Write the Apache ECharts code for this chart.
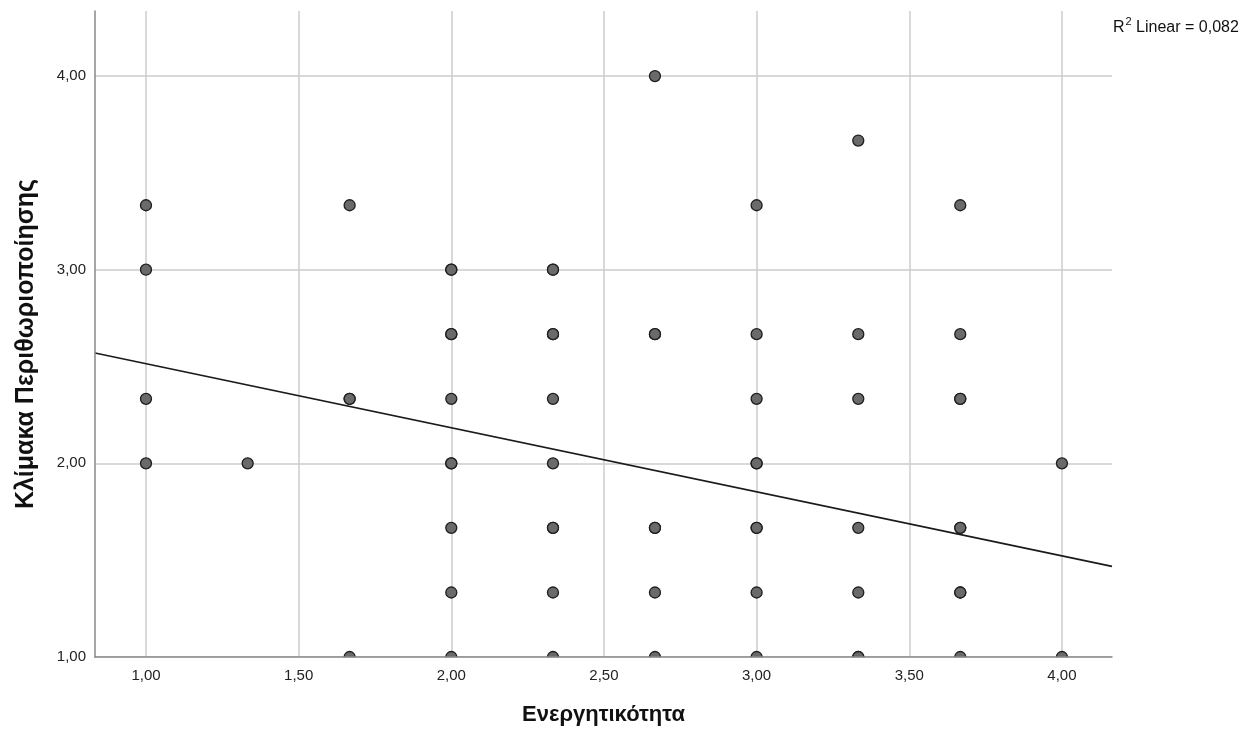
<!DOCTYPE html>
<html>
<head>
<meta charset="utf-8">
<script src="https://cdn.jsdelivr.net/npm/echarts@6/dist/echarts.min.js"></script>
<style>
html,body{margin:0;padding:0;background:#fff;}
#chart{width:1259px;height:735px;}
</style>
</head>
<body>
<div id="chart"></div>
<script>
// Scatter data: Ενεργητικότητα (x) vs Κλίμακα Περιθωριοποίησης (y)
const pointsX = [
  1, 1, 1, 1,
  1.333,
  1.667, 1.667, 1.667, 1.667,
  2, 2, 2, 2, 2, 2, 2, 2, 2, 2,
  2.333, 2.333, 2.333, 2.333, 2.333, 2.333, 2.333, 2.333, 2.333, 2.333,
  2.667, 2.667, 2.667, 2.667, 2.667, 2.667, 2.667,
  3, 3, 3, 3, 3, 3, 3, 3, 3,
  3.333, 3.333, 3.333, 3.333, 3.333, 3.333, 3.333,
  3.667, 3.667, 3.667, 3.667, 3.667, 3.667, 3.667, 3.667, 3.667,
  4, 4
];
const pointsY = [
  3.333, 3, 2.333, 2,
  2,
  3.333, 2.333, 2.333, 1,
  3, 3, 2.667, 2.667, 2.333, 2, 2, 1.667, 1.333, 1,
  3, 3, 2.667, 2.667, 2.333, 2, 1.667, 1.667, 1.333, 1,
  4, 2.667, 2.667, 1.667, 1.667, 1.333, 1,
  3.333, 2.667, 2.333, 2, 2, 1.667, 1.667, 1.333, 1,
  3.667, 2.667, 2.333, 1.667, 1.333, 1, 1,
  3.333, 2.667, 2.333, 2.333, 1.667, 1.667, 1.333, 1.333, 1,
  2, 1
];
// Linear fit line endpoints
const fitX = [0.833, 4.164];
const fitY = [2.570, 1.468];
// Tick values
const xTicks = [1, 1.5, 2, 2.5, 3, 3.5, 4];
const yTicks = [1, 2, 3, 4];
const xTitle = 'Ενεργητικότητα';
const yTitle = 'Κλίμακα Περιθωριοποίησης';
const r2Value = '0,082';

const fmt = v => v.toFixed(2).replace('.', ',');
const scatterData = pointsX.map((x, i) => [x, pointsY[i]]);
const fitData = fitX.map((x, i) => [x, fitY[i]]);

const chart = echarts.init(document.getElementById('chart'), null, {renderer: 'canvas'});
const FONT = 'Liberation Sans, Arial, sans-serif';
const GRID = {left: 95, right: 147, top: 11, bottom: 78};
const XMIN = 0.833, XMAX = 4.164, YMIN = 1, YMAX = 4.336;

chart.setOption({
  animation: false,
  backgroundColor: '#ffffff',
  grid: GRID,
  xAxis: [
    { // vertical gridlines only (behind points)
      type: 'value', min: XMIN, max: XMAX, position: 'top', z: 0,
      axisLine: {show: false}, axisTick: {show: false, customValues: xTicks},
      axisLabel: {show: false, customValues: xTicks},
      splitLine: {show: true, lineStyle: {color: '#cccccc', width: 1.5}}
    },
    { // axis line, labels and title (above cover)
      type: 'value', min: XMIN, max: XMAX, position: 'bottom', z: 6,
      axisLine: {show: true, onZero: false, lineStyle: {color: '#888888', width: 1.5}},
      axisTick: {show: false, customValues: xTicks},
      axisLabel: {show: true, customValues: xTicks, formatter: fmt, color: '#222', fontFamily: FONT, fontSize: 15, margin: 11},
      splitLine: {show: false},
      name: xTitle, nameLocation: 'middle', nameGap: 47,
      nameTextStyle: {fontFamily: FONT, fontWeight: 'bold', fontSize: 22, color: '#111'}
    }
  ],
  yAxis: [
    { // horizontal gridlines only (behind points)
      type: 'value', min: YMIN, max: YMAX, position: 'right', z: 0,
      axisLine: {show: false}, axisTick: {show: false, customValues: yTicks},
      axisLabel: {show: false, customValues: yTicks},
      splitLine: {show: true, lineStyle: {color: '#cccccc', width: 1.5}}
    },
    {
      type: 'value', min: YMIN, max: YMAX, position: 'left', z: 6,
      axisLine: {show: true, onZero: false, lineStyle: {color: '#888888', width: 1.5}},
      axisTick: {show: false, customValues: yTicks},
      axisLabel: {show: true, customValues: yTicks, formatter: fmt, color: '#222', fontFamily: FONT, fontSize: 15, margin: 9},
      splitLine: {show: false},
      name: yTitle, nameLocation: 'middle', nameGap: 56, nameRotate: 90,
      nameTextStyle: {fontFamily: FONT, fontWeight: 'bold', fontSize: 25, color: '#111', padding: [0, 20, 0, 0]}
    }
  ],
  graphic: [
    { // cover that hides the lower half of points lying on the bottom axis
      type: 'rect', z: 4, silent: true,
      shape: {x: 96, y: 657.3, width: 1163, height: 80},
      style: {fill: '#ffffff'}
    },
    {
      type: 'text', z: 7, left: 1113, top: 16,
      style: {
        text: '{r|R}{s|2}{r| Linear = ' + r2Value + '}',
        rich: {
          r: {fontFamily: FONT, fontSize: 16, fill: '#111', verticalAlign: 'bottom', lineHeight: 20},
          s: {fontFamily: FONT, fontSize: 11, fill: '#111', verticalAlign: 'top', padding: [0, 0, 0, 1], lineHeight: 20}
        }
      }
    }
  ],
  series: [
    {
      type: 'line', xAxisIndex: 0, yAxisIndex: 0, z: 2,
      data: fitData, showSymbol: false, silent: true,
      lineStyle: {color: '#1a1a1a', width: 1.6}
    },
    {
      type: 'scatter', xAxisIndex: 0, yAxisIndex: 0, z: 3,
      data: scatterData, symbol: 'circle', symbolSize: 11,
      itemStyle: {color: '#6a6a6a', borderColor: '#1e1e1e', borderWidth: 1.3, opacity: 1}
    }
  ]
});
</script>
</body>
</html>
